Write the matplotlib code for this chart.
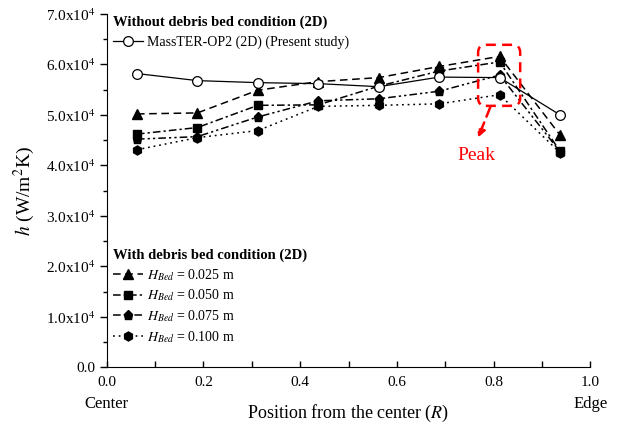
import matplotlib.pyplot as plt
from matplotlib.patches import FancyBboxPatch
from matplotlib.ticker import FuncFormatter, MultipleLocator

plt.rcParams['font.family'] = ['Liberation Serif', 'DejaVu Serif']
plt.rcParams['mathtext.fontset'] = 'stix'

# positions from the center (R)
pos = [0.0625, 0.1875, 0.3125, 0.4375, 0.5625, 0.6875, 0.8125, 0.9375]

# heat transfer coefficient h (W/m2K)
masster = [5.82e4, 5.68e4, 5.64e4, 5.62e4, 5.56e4, 5.75e4, 5.74e4, 5.0e4]
bed_025 = [5.02e4, 5.04e4, 5.49e4, 5.66e4, 5.74e4, 5.96e4, 6.16e4, 4.6e4]
bed_050 = [4.62e4, 4.75e4, 5.19e4, 5.2e4, 5.57e4, 5.87e4, 6.05e4, 4.28e4]
bed_075 = [4.52e4, 4.57e4, 4.96e4, 5.28e4, 5.32e4, 5.47e4, 5.79e4, 4.27e4]
bed_100 = [4.31e4, 4.55e4, 4.69e4, 5.17e4, 5.19e4, 5.22e4, 5.4e4, 4.25e4]

bed_labels = [r'$H_{Bed}$ = 0.025 m', r'$H_{Bed}$ = 0.050 m',
              r'$H_{Bed}$ = 0.075 m', r'$H_{Bed}$ = 0.100 m']

fig = plt.figure(figsize=(6.24, 4.25), dpi=100)
ax = fig.add_axes([0.171, 0.136, 0.775, 0.831])

styles = [
    (bed_025, '^', 6.5, (0, (5, 3))),
    (bed_050, 's', 5.8, (0, (5, 2, 1.5, 2))),
    (bed_075, 'p', 6.5, (0, (5, 2, 1.5, 2, 1.5, 2))),
    (bed_100, 'h', 6.5, (0, (1.2, 2.5))),
]
bed_handles = []
for (vals, mk, ms, ls), lab in zip(styles, bed_labels):
    ln, = ax.plot(pos, vals, color='black', lw=1.1, ls=ls, marker=mk,
                  ms=ms, mfc='black', mec='black', label=lab, zorder=3)
    bed_handles.append(ln)

m_line, = ax.plot(pos, masster, color='black', lw=0.9, ls='-', marker='o',
                  ms=7, mfc='white', mec='black', mew=0.9, zorder=4,
                  label='MassTER-OP2 (2D) (Present study)')

ax.set_xlim(0, 1.0)
ax.set_ylim(0, 7.0e4)
ax.xaxis.set_major_locator(MultipleLocator(0.2))
ax.xaxis.set_minor_locator(MultipleLocator(0.1))
ax.yaxis.set_major_locator(MultipleLocator(1.0e4))
ax.yaxis.set_minor_locator(MultipleLocator(0.5e4))
ax.xaxis.set_major_formatter(FuncFormatter(lambda v, p: '%.1f' % v))
ax.yaxis.set_major_formatter(FuncFormatter(
    lambda v, p: '0.0' if v == 0 else '%.1fx10$^{4}$' % (v / 1e4)))

ax.spines['top'].set_visible(False)
ax.spines['right'].set_visible(False)
ax.tick_params(axis='x', which='both', direction='in', length=4, width=1,
               labelsize=11, pad=6)
ax.tick_params(axis='y', which='major', direction='out', length=5, width=1,
               labelsize=11)
ax.tick_params(axis='y', which='minor', direction='out', length=3, width=1)

ax.set_ylabel(r'$h$ (W/m$^{2}$K)', fontsize=14, labelpad=6)
ax.set_xlabel(r'Position from the center ($R$)', fontsize=13, labelpad=10)
ax.text(0.0, -0.105, 'Center', transform=ax.transAxes, ha='center',
        va='center', fontsize=12)
ax.text(1.0, -0.105, 'Edge', transform=ax.transAxes, ha='center',
        va='center', fontsize=12)

leg1 = ax.legend(handles=[m_line], loc='upper left', frameon=False,
                 bbox_to_anchor=(-0.005, 1.02), fontsize=10,
                 title='Without debris bed condition (2D)',
                 title_fontproperties={'weight': 'bold', 'size': 10.5},
                 alignment='left', handlelength=2.2, handletextpad=0.3,
                 borderaxespad=0.2)
ax.add_artist(leg1)
ax.legend(handles=bed_handles, loc='upper left', frameon=False,
          bbox_to_anchor=(-0.005, 0.36), fontsize=10,
          title='With debris bed condition (2D)',
          title_fontproperties={'weight': 'bold', 'size': 10.5},
          alignment='left', handlelength=2.2, handletextpad=0.3,
          labelspacing=0.35, borderaxespad=0.2)

# peak marker box and arrow
aspect = 483 * 7.0e4 / 353
box = FancyBboxPatch((0.768, 5.18e4), 0.087, 1.21e4,
                     boxstyle='round,pad=0,rounding_size=0.016',
                     mutation_aspect=aspect, fill=False, ec='red', lw=1.8,
                     ls=(0, (4, 2.5)), zorder=5)
ax.add_patch(box)
ax.annotate('', xy=(0.768, 4.55e4), xytext=(0.793, 5.15e4),
            arrowprops=dict(arrowstyle='-|>,head_length=0.45,head_width=0.22',
                            color='red', lw=1.8, ls=(0, (4, 2.5)),
                            shrinkA=0, shrinkB=0), zorder=5)
ax.text(0.764, 4.2e4, 'Peak', color='red', fontsize=14, ha='center',
        va='center')

fig.savefig('out.png', dpi=100)
